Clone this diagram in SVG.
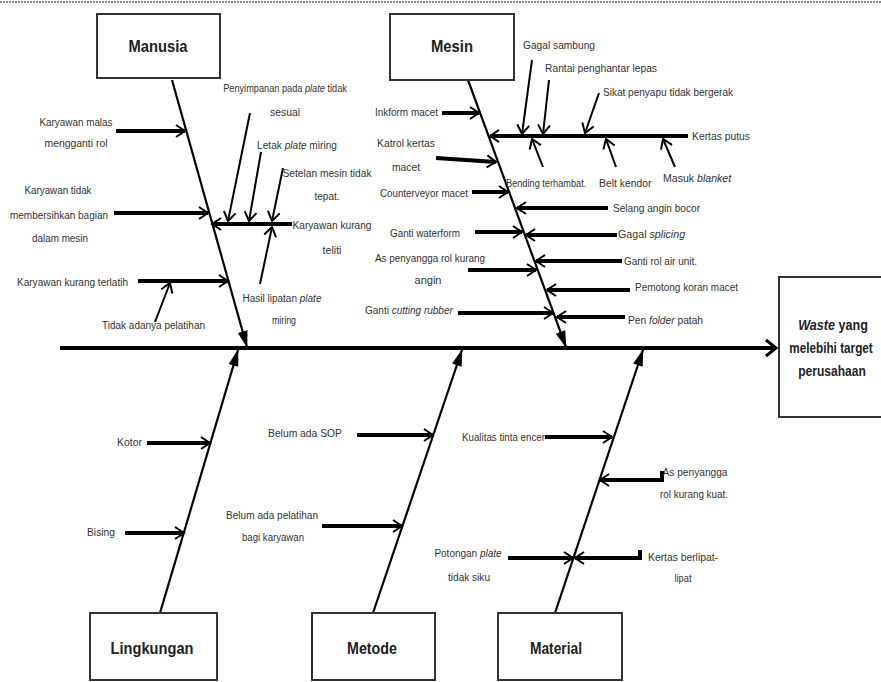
<svg xmlns="http://www.w3.org/2000/svg" width="881" height="682" viewBox="0 0 881 682">
<style>
.box{fill:#fff;stroke:#333;stroke-width:2}
.bl{font-family:"Liberation Sans",Arial,sans-serif;font-weight:bold;font-size:17px;fill:#222;text-anchor:middle;dominant-baseline:central}
.t{font-family:"Liberation Sans",Arial,sans-serif;font-size:11.5px;fill:#333;dominant-baseline:central}
.m{text-anchor:middle}
.i{font-style:italic}
.w{font-family:"Liberation Sans",Arial,sans-serif;font-weight:bold;font-size:14px;fill:#222;dominant-baseline:central;text-anchor:middle}
.bone{stroke:#000;stroke-width:2.2;fill:none;marker-end:url(#fa)}
.th{stroke:#000;stroke-width:4;fill:none;marker-end:url(#oa)}
.tn{stroke:#000;stroke-width:2;fill:none;marker-end:url(#oa)}
</style>
<defs>
<marker id="oa" markerUnits="userSpaceOnUse" markerWidth="14" markerHeight="14" refX="12" refY="7" orient="auto" overflow="visible">
<path d="M3,1 L12,7 L3,13" fill="none" stroke="#000" stroke-width="2"/>
</marker>
<marker id="ob" markerUnits="userSpaceOnUse" markerWidth="16" markerHeight="18" refX="14" refY="9" orient="auto" overflow="visible">
<path d="M4,1 L14,9 L4,17" fill="none" stroke="#000" stroke-width="3"/>
</marker>
<marker id="fa" markerUnits="userSpaceOnUse" markerWidth="18" markerHeight="10" refX="16" refY="5" orient="auto" overflow="visible">
<path d="M0,0 L17,5 L0,10 z" fill="#000"/>
</marker>
</defs>
<line x1="0" y1="2" x2="881" y2="2" stroke="#888" stroke-width="2" stroke-dasharray="2,1"/>

<g id="connectors">
<line x1="60" y1="348" x2="776" y2="348" stroke="#000" stroke-width="4" marker-end="url(#ob)"/>
<line class="bone" x1="172" y1="80" x2="247" y2="347"/>
<line class="bone" x1="468" y1="80" x2="566" y2="347"/>
<line class="bone" x1="160" y1="613" x2="238" y2="350"/>
<line class="bone" x1="373" y1="613" x2="462" y2="350"/>
<line class="bone" x1="555" y1="613" x2="643" y2="350"/>
<line class="th" x1="116" y1="131" x2="185" y2="131"/>
<line class="th" x1="114" y1="213" x2="208" y2="213"/>
<line class="th" x1="138" y1="281" x2="228" y2="281"/>
<line class="tn" x1="155" y1="322" x2="170" y2="283"/>
<line class="th" x1="292" y1="224" x2="212" y2="224"/>
<line class="tn" x1="250" y1="113" x2="228" y2="221"/>
<line class="tn" x1="261" y1="152" x2="249" y2="221"/>
<line class="tn" x1="283" y1="168" x2="272" y2="221"/>
<line class="tn" x1="260" y1="284" x2="272" y2="227"/>
<line class="th" x1="442" y1="113" x2="479" y2="113"/>
<line class="th" x1="436" y1="158" x2="496" y2="162"/>
<line class="th" x1="472" y1="192" x2="508" y2="192"/>
<line class="th" x1="475" y1="232" x2="522" y2="232"/>
<line class="th" x1="468" y1="270" x2="536" y2="270"/>
<line class="th" x1="458" y1="313" x2="553" y2="313"/>
<line class="th" x1="688" y1="136" x2="490" y2="136"/>
<line class="tn" x1="532" y1="60" x2="522" y2="134"/>
<line class="tn" x1="549" y1="80" x2="543" y2="134"/>
<line class="tn" x1="599" y1="93" x2="585" y2="133"/>
<line class="tn" x1="543" y1="167" x2="532" y2="139"/>
<line class="tn" x1="616" y1="167" x2="606" y2="139"/>
<line class="tn" x1="675" y1="167" x2="663" y2="139"/>
<line class="th" x1="608" y1="208" x2="517" y2="208"/>
<line class="th" x1="617" y1="235" x2="526" y2="235"/>
<line class="th" x1="622" y1="261" x2="536" y2="261"/>
<line class="th" x1="630" y1="290" x2="547" y2="290"/>
<line class="th" x1="625" y1="317" x2="557" y2="317"/>
<line class="th" x1="147" y1="443" x2="210" y2="443"/>
<line class="th" x1="125" y1="533" x2="184" y2="533"/>
<line class="th" x1="357" y1="435" x2="433" y2="435"/>
<line class="th" x1="322" y1="526" x2="402" y2="526"/>
<line class="th" x1="545" y1="437" x2="612" y2="437"/>
<polyline class="th" points="662,471 662,480 600,480"/>
<line class="th" x1="508" y1="558" x2="573" y2="558"/>
<polyline class="th" points="640,550 640,558 575,558"/>
</g>

<g id="manusia"><rect class="box" x="97" y="14" width="123" height="64"/><text class="bl" x="158" y="46" textLength="59" lengthAdjust="spacingAndGlyphs">Manusia</text></g>
<g id="mesin"><rect class="box" x="390" y="14" width="124" height="66"/><text class="bl" x="452" y="46" textLength="42" lengthAdjust="spacingAndGlyphs">Mesin</text></g>
<g id="waste"><rect class="box" x="779" y="277" width="110" height="140"/>
<text class="w" transform="translate(833,325) scale(0.9,1)"><tspan font-style="italic">Waste</tspan> yang</text>
<text class="w" transform="translate(831,348) scale(0.84,1)">melebihi target</text>
<text class="w" transform="translate(832,371) scale(0.86,1)">perusahaan</text></g>
<g id="lingkungan"><rect class="box" x="90" y="613" width="127" height="67"/><text class="bl" x="152" y="648" textLength="83" lengthAdjust="spacingAndGlyphs">Lingkungan</text></g>
<g id="metode"><rect class="box" x="312" y="613" width="123" height="67"/><text class="bl" x="372" y="648" textLength="50" lengthAdjust="spacingAndGlyphs">Metode</text></g>
<g id="material"><rect class="box" x="498" y="613" width="124" height="67"/><text class="bl" x="556" y="648" textLength="52" lengthAdjust="spacingAndGlyphs">Material</text></g>

<g id="labels-manusia">
<text class="t m" x="76" y="122" textLength="73" lengthAdjust="spacingAndGlyphs">Karyawan malas</text>
<text class="t m" x="76" y="143" textLength="63" lengthAdjust="spacingAndGlyphs">mengganti rol</text>
<text class="t m" x="58" y="190" textLength="67" lengthAdjust="spacingAndGlyphs">Karyawan tidak</text>
<text class="t m" x="59" y="215" textLength="98" lengthAdjust="spacingAndGlyphs">membersihkan bagian</text>
<text class="t m" x="60" y="238" textLength="56" lengthAdjust="spacingAndGlyphs">dalam mesin</text>
<text class="t" x="17" y="282" textLength="111" lengthAdjust="spacingAndGlyphs">Karyawan kurang terlatih</text>
<text class="t" x="102" y="325" textLength="103" lengthAdjust="spacingAndGlyphs">Tidak adanya pelatihan</text>
<text class="t m" transform="translate(285,88) scale(0.8,1)">Penyimpanan pada <tspan class="i">plate</tspan> tidak</text>
<text class="t m" x="285" y="112" textLength="30" lengthAdjust="spacingAndGlyphs">sesuai</text>
<text class="t m" transform="translate(297,145) scale(0.88,1)">Letak <tspan class="i">plate</tspan> miring</text>
<text class="t m" x="327" y="173" textLength="89" lengthAdjust="spacingAndGlyphs">Setelan mesin tidak</text>
<text class="t m" x="327" y="196" textLength="25" lengthAdjust="spacingAndGlyphs">tepat.</text>
<text class="t m" x="332" y="225" textLength="79" lengthAdjust="spacingAndGlyphs">Karyawan kurang</text>
<text class="t m" x="332" y="250" textLength="19" lengthAdjust="spacingAndGlyphs">teliti</text>
<text class="t m" transform="translate(282,298) scale(0.87,1)">Hasil lipatan <tspan class="i">plate</tspan></text>
<text class="t m" x="284" y="320" textLength="24" lengthAdjust="spacingAndGlyphs">miring</text>
</g>

<g id="labels-mesin">
<text class="t" x="375" y="112" textLength="63" lengthAdjust="spacingAndGlyphs">Inkform macet</text>
<text class="t m" x="406" y="143" textLength="58" lengthAdjust="spacingAndGlyphs">Katrol kertas</text>
<text class="t m" x="406" y="167" textLength="28" lengthAdjust="spacingAndGlyphs">macet</text>
<text class="t" x="380" y="193" textLength="88" lengthAdjust="spacingAndGlyphs">Counterveyor macet</text>
<text class="t" x="390" y="233" textLength="70" lengthAdjust="spacingAndGlyphs">Ganti waterform</text>
<text class="t m" x="430" y="258" textLength="110" lengthAdjust="spacingAndGlyphs">As penyangga rol kurang</text>
<text class="t m" x="428" y="280" textLength="27" lengthAdjust="spacingAndGlyphs">angin</text>
<text class="t" transform="translate(365,310) scale(0.87,1)">Ganti <tspan class="i">cutting rubber</tspan></text>
<text class="t" x="523" y="45" textLength="72" lengthAdjust="spacingAndGlyphs">Gagal sambung</text>
<text class="t" x="545" y="68" textLength="112" lengthAdjust="spacingAndGlyphs">Rantai penghantar lepas</text>
<text class="t" x="603" y="92" textLength="130" lengthAdjust="spacingAndGlyphs">Sikat penyapu tidak bergerak</text>
<text class="t" x="692" y="136" textLength="58" lengthAdjust="spacingAndGlyphs">Kertas putus</text>
<text class="t" transform="translate(506,183) scale(0.8,1)">Bending terhambat.</text>
<text class="t" transform="translate(599,183) scale(0.9,1)">Belt kendor</text>
<text class="t" transform="translate(663,178) scale(0.92,1)">Masuk <tspan class="i">blanket</tspan></text>
<text class="t" x="613" y="208" textLength="87" lengthAdjust="spacingAndGlyphs">Selang angin bocor</text>
<text class="t" transform="translate(618,234) scale(0.93,1)">Gagal <tspan class="i">splicing</tspan></text>
<text class="t" x="624" y="261" textLength="73" lengthAdjust="spacingAndGlyphs">Ganti rol air unit.</text>
<text class="t" x="635" y="287" textLength="103" lengthAdjust="spacingAndGlyphs">Pemotong koran macet</text>
<text class="t" transform="translate(628,320) scale(0.89,1)">Pen <tspan class="i">folder</tspan> patah</text>
</g>

<g id="labels-bottom">
<text class="t" x="117" y="442" textLength="25" lengthAdjust="spacingAndGlyphs">Kotor</text>
<text class="t" x="87" y="532" textLength="28" lengthAdjust="spacingAndGlyphs">Bising</text>
<text class="t" x="268" y="433" textLength="74" lengthAdjust="spacingAndGlyphs">Belum ada SOP</text>
<text class="t m" x="272" y="515" textLength="92" lengthAdjust="spacingAndGlyphs">Belum ada pelatihan</text>
<text class="t m" x="273" y="537" textLength="62" lengthAdjust="spacingAndGlyphs">bagi karyawan</text>
<text class="t" x="462" y="437" textLength="83" lengthAdjust="spacingAndGlyphs">Kualitas tinta encer</text>
<text class="t m" x="695" y="472" textLength="65" lengthAdjust="spacingAndGlyphs">As penyangga</text>
<text class="t m" x="694" y="494" textLength="68" lengthAdjust="spacingAndGlyphs">rol kurang kuat.</text>
<text class="t m" transform="translate(468,553) scale(0.87,1)">Potongan <tspan class="i">plate</tspan></text>
<text class="t m" x="469" y="577" textLength="42" lengthAdjust="spacingAndGlyphs">tidak siku</text>
<text class="t m" x="683" y="557" textLength="70" lengthAdjust="spacingAndGlyphs">Kertas berlipat-</text>
<text class="t m" x="683" y="578" textLength="17" lengthAdjust="spacingAndGlyphs">lipat</text>
</g>
</svg>
